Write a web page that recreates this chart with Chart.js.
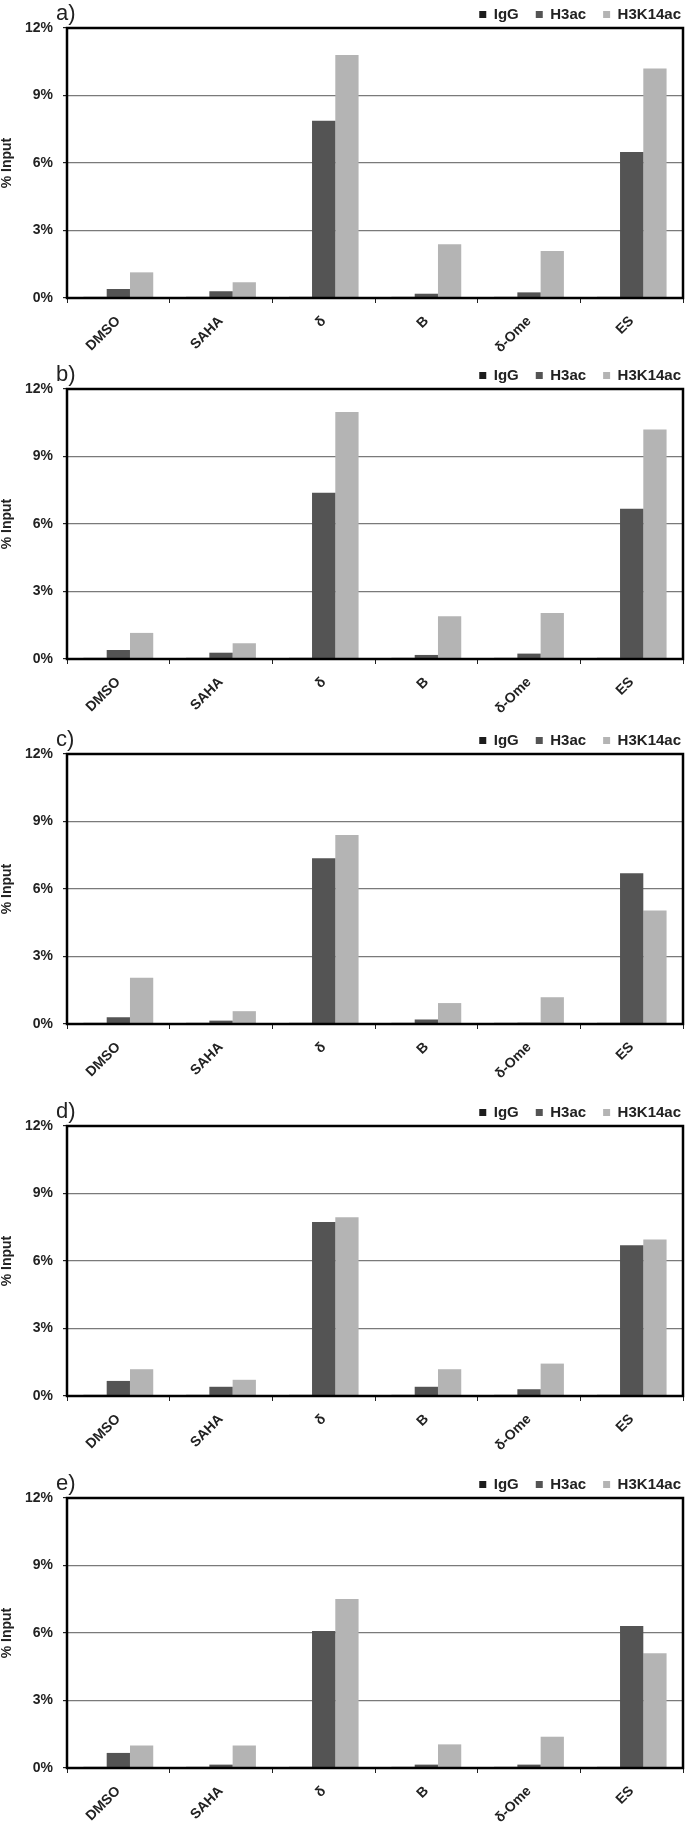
<!DOCTYPE html>
<html>
<head>
<meta charset="utf-8">
<script src="https://cdn.jsdelivr.net/npm/chart.js@4"></script>
<style>
html, body { margin: 0; padding: 0; background: #fff; overflow: hidden; }
body { width: 689px; height: 1826px; position: relative; }
.panel { position: absolute; left: 0; width: 689px; height: 360px; }
</style>
</head>
<body>
<div class="panel" style="top:0px"><canvas id="chartA"></canvas></div>
<div class="panel" style="top:361px"><canvas id="chartB"></canvas></div>
<div class="panel" style="top:726px"><canvas id="chartC"></canvas></div>
<div class="panel" style="top:1098px"><canvas id="chartD"></canvas></div>
<div class="panel" style="top:1470px"><canvas id="chartE"></canvas></div>
<script>
const categories = ['DMSO', 'SAHA', 'δ', 'B', 'δ-Ome', 'ES'];
const seriesNames = ['IgG', 'H3ac', 'H3K14ac'];
const yMax = 12;
const yStep = 3;

// % input values
const iggA = [0.05, 0.05, 0.05, 0.05, 0.05, 0.05];
const h3acA = [0.40, 0.30, 7.88, 0.19, 0.25, 6.49];
const h3k14acA = [1.14, 0.70, 10.80, 2.39, 2.09, 10.20];

const iggB = [0.05, 0.05, 0.05, 0.05, 0.05, 0.05];
const h3acB = [0.40, 0.28, 7.39, 0.18, 0.24, 6.68];
const h3k14acB = [1.16, 0.70, 10.98, 1.90, 2.04, 10.20];

const iggC = [0.05, 0.05, 0.05, 0.05, 0.05, 0.05];
const h3acC = [0.30, 0.15, 7.37, 0.20, 0.06, 6.70];
const h3k14acC = [2.06, 0.57, 8.40, 0.93, 1.19, 5.05];

const iggD = [0.05, 0.05, 0.05, 0.05, 0.05, 0.05];
const h3acD = [0.67, 0.41, 7.73, 0.41, 0.30, 6.70];
const h3k14acD = [1.19, 0.72, 7.94, 1.19, 1.44, 6.96];

const iggE = [0.05, 0.05, 0.05, 0.05, 0.05, 0.05];
const h3acE = [0.67, 0.15, 6.09, 0.15, 0.15, 6.31];
const h3k14acE = [1.00, 1.00, 7.51, 1.05, 1.39, 5.10];

const barColors = ['#1c1c1c', '#545454', '#b4b4b4'];
const fontFamily = '"Liberation Sans", Arial, sans-serif';

// black frame round the plot, panel letter, legend nudged to the right edge
const panelFrame = {
    id: 'panelFrame',
    afterLayout(chart) {
        chart.legend.left += 15;
        chart.legend.right += 15;
    },
    afterDraw(chart, args, opts) {
        const { ctx, chartArea: a } = chart;
        ctx.save();
        ctx.strokeStyle = '#000';
        ctx.lineWidth = 2.5;
        ctx.strokeRect(a.left, a.top, a.right - a.left, a.bottom - a.top);
        ctx.font = '22px ' + fontFamily;
        ctx.fillStyle = '#222';
        ctx.textBaseline = 'alphabetic';
        ctx.fillText(opts.letter, 56, a.top - 8);
        ctx.restore();
    }
};

function makePanel(id, letter, igg, h3ac, h3k14ac) {
    const values = [igg, h3ac, h3k14ac];
    const data = {
        labels: categories,
        datasets: seriesNames.map((name, i) => ({
            label: name,
            data: values[i],
            backgroundColor: barColors[i],
            borderWidth: 0,
            barPercentage: 1.0,
            categoryPercentage: 0.68
        }))
    };

    const options = {
        responsive: true,
        maintainAspectRatio: false,
        animation: false,
        layout: { padding: { top: -10, right: 6, bottom: 0, left: 0 } },
        plugins: {
            legend: {
                position: 'top',
                align: 'end',
                maxHeight: 38,
                labels: {
                    boxWidth: 7,
                    boxHeight: 7,
                    padding: 17,
                    color: '#222',
                    font: { family: fontFamily, size: 15, weight: 'bold' }
                }
            },
            tooltip: { enabled: false },
            panelFrame: { letter: letter }
        },
        scales: {
            x: {
                border: { display: false },
                grid: {
                    drawOnChartArea: false,
                    drawTicks: true,
                    tickLength: 5,
                    tickColor: '#222',
                    offset: true
                },
                ticks: {
                    minRotation: 45,
                    maxRotation: 45,
                    padding: 10,
                    color: '#222',
                    font: { family: fontFamily, size: 14, weight: 'bold' }
                },
                afterFit: (scale) => { scale.height = 62; }
            },
            y: {
                min: 0,
                max: yMax,
                border: { display: false },
                grid: {
                    color: (c) => (c.tick && (c.tick.value === 0 || c.tick.value === yMax)) ? 'rgba(0,0,0,0)' : '#7a7a7a',
                    lineWidth: 1.2,
                    tickLength: 4,
                    tickColor: '#222'
                },
                ticks: {
                    stepSize: yStep,
                    padding: 10,
                    color: '#222',
                    font: { family: fontFamily, size: 14, weight: 'bold' },
                    callback: (v) => v + '%'
                },
                title: {
                    display: true,
                    text: '% Input',
                    color: '#222',
                    padding: 0,
                    font: { family: fontFamily, size: 14, weight: 'bold', lineHeight: 1 }
                },
                afterFit: (scale) => { scale.width = 67; }
            }
        }
    };

    new Chart(document.getElementById(id), { type: 'bar', data, options, plugins: [panelFrame] });
}

makePanel('chartA', 'a)', iggA, h3acA, h3k14acA);
makePanel('chartB', 'b)', iggB, h3acB, h3k14acB);
makePanel('chartC', 'c)', iggC, h3acC, h3k14acC);
makePanel('chartD', 'd)', iggD, h3acD, h3k14acD);
makePanel('chartE', 'e)', iggE, h3acE, h3k14acE);
</script>
</body>
</html>
